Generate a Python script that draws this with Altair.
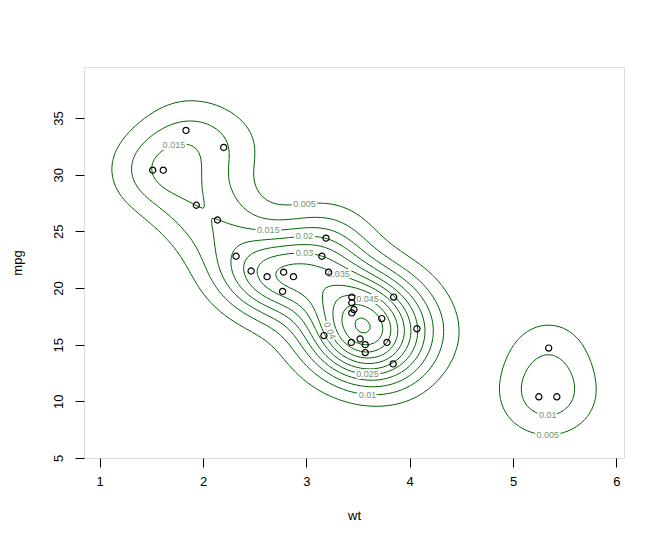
import numpy as np
import pandas as pd
import altair as alt

# mtcars: weight (1000 lbs) and miles per gallon
wt = [2.620, 2.875, 2.320, 3.215, 3.440, 3.460, 3.570, 3.190, 3.150, 3.440, 3.440,
      4.070, 3.730, 3.780, 5.250, 5.424, 5.345, 2.200, 1.615, 1.835, 2.465, 3.520,
      3.435, 3.840, 3.845, 1.935, 2.140, 1.513, 3.170, 2.770, 3.570, 2.780]
mpg = [21.0, 21.0, 22.8, 21.4, 18.7, 18.1, 14.3, 24.4, 22.8, 19.2, 17.8,
       16.4, 17.3, 15.2, 10.4, 10.4, 14.7, 32.4, 30.4, 33.9, 21.5, 15.5,
       15.2, 13.3, 19.2, 27.3, 26.0, 30.4, 15.8, 19.7, 15.0, 21.4]

x_ticks = [1, 2, 3, 4, 5, 6]
y_ticks = [5, 10, 15, 20, 25, 30, 35]
levels = [0.005, 0.01, 0.015, 0.02, 0.025, 0.03, 0.035, 0.04, 0.045, 0.05, 0.055]

# kde2d bandwidths (h, as in MASS::kde2d)
h_wt = 1.28
h_mpg = 10.2

# contour label targets: (level, wt, mpg)
label_level = [0.015, 0.005, 0.015, 0.02, 0.03, 0.035, 0.045, 0.04, 0.025, 0.01, 0.01, 0.005]
label_wt = [1.77, 2.98, 2.65, 2.98, 2.98, 3.30, 3.55, 3.40, 3.59, 3.61, 5.33, 5.34]
label_mpg = [31.2, 27.2, 24.6, 24.2, 22.1, 21.0, 18.4, 16.9, 13.9, 11.7, 9.1, 7.25]

XMIN, XMAX = 0.848, 6.074
YMIN, YMAX = 5.0, 39.5
W, H = 540, 391

# ---- 2D kernel density (as MASS::kde2d) ----
xa = np.array(wt); ya = np.array(mpg)
n = len(xa)
hx = h_wt / 4
hy = h_mpg / 4
gx = np.linspace(XMIN - 0.2, XMAX + 0.2, 130)
gy = np.linspace(YMIN - 2, YMAX + 2, 130)
ax_ = np.exp(-0.5 * ((gx[:, None] - xa[None, :]) / hx) ** 2) / (np.sqrt(2 * np.pi) * hx)
ay_ = np.exp(-0.5 * ((gy[:, None] - ya[None, :]) / hy) ** 2) / (np.sqrt(2 * np.pi) * hy)
Z = (ay_ @ ax_.T) / n   # Z[iy, ix]


def segments(level):
    out = []
    ny, nx = Z.shape
    for i in range(ny - 1):
        for j in range(nx - 1):
            z00, z01 = Z[i, j], Z[i, j + 1]
            z10, z11 = Z[i + 1, j], Z[i + 1, j + 1]
            mn = min(z00, z01, z10, z11); mx = max(z00, z01, z10, z11)
            if mn > level or mx < level:
                continue
            x0, x1 = gx[j], gx[j + 1]
            y0, y1 = gy[i], gy[i + 1]
            pts = []
            def cross(za, zb, pa, pb):
                if (za - level) * (zb - level) < 0:
                    t = (level - za) / (zb - za)
                    pts.append((pa[0] + t * (pb[0] - pa[0]), pa[1] + t * (pb[1] - pa[1])))
            cross(z00, z01, (x0, y0), (x1, y0))
            cross(z01, z11, (x1, y0), (x1, y1))
            cross(z11, z10, (x1, y1), (x0, y1))
            cross(z10, z00, (x0, y1), (x0, y0))
            if len(pts) == 2:
                out.append((pts[0], pts[1]))
            elif len(pts) == 4:
                c = (z00 + z01 + z10 + z11) / 4
                if (c > level) == (z00 > level):
                    out.append((pts[0], pts[3])); out.append((pts[1], pts[2]))
                else:
                    out.append((pts[0], pts[1])); out.append((pts[2], pts[3]))
    return out

rows = []
seg_by_level = {}
for lv in levels:
    if lv > Z.max():
        continue
    segs = segments(lv)
    seg_by_level[lv] = segs
    for (a, b) in segs:
        rows.append({"level": lv, "x": a[0], "y": a[1], "x2": b[0], "y2": b[1]})
seg_df = pd.DataFrame(rows)

sx = W / (XMAX - XMIN); sy = H / (YMAX - YMIN)
lab_rows = []
for lv, tx, ty in zip(label_level, label_wt, label_mpg):
    segs = seg_by_level.get(lv)
    if not segs:
        continue
    best = None; bd = 1e18
    for (a, b) in segs:
        mx_ = (a[0] + b[0]) / 2; my_ = (a[1] + b[1]) / 2
        d = ((mx_ - tx) * sx) ** 2 + ((my_ - ty) * sy) ** 2
        if d < bd:
            bd = d; best = (a, b, mx_, my_)
    a, b, mx_, my_ = best
    ang = np.degrees(np.arctan2(-(b[1] - a[1]) * sy, (b[0] - a[0]) * sx))
    if ang > 90: ang -= 180
    if ang <= -90: ang += 180
    if abs(ang) < 25:
        ang = 0.0
    lab_rows.append({"x": mx_, "y": my_, "label": f"{lv:g}", "angle": ang % 360})
lab_df = pd.DataFrame(lab_rows)

pts_df = pd.DataFrame({"wt": wt, "mpg": mpg})

xs = alt.Scale(domain=[XMIN, XMAX], nice=False, zero=False)
ys = alt.Scale(domain=[YMIN, YMAX], nice=False, zero=False)

axis_common = dict(grid=False, domain=False, ticks=True, tickColor="black", tickSize=9,
                   labelColor="black", labelFontSize=13, labelFont="Liberation Sans",
                   titleColor="black", titleFontSize=13, titleFont="Liberation Sans",
                   titleFontWeight="normal", format="d")

contours = alt.Chart(seg_df).mark_rule(color="#006400", strokeWidth=1, clip=True).encode(
    x=alt.X("x:Q", scale=xs, axis=alt.Axis(values=x_ticks, title="wt", labelPadding=8,
                                           titlePadding=21, **axis_common)),
    y=alt.Y("y:Q", scale=ys, axis=alt.Axis(values=y_ticks, title="mpg", labelAngle=270,
                                           labelAlign="center", labelBaseline="bottom",
                                           labelPadding=10, titlePadding=28, **axis_common)),
    x2="x2:Q", y2="y2:Q",
)

halo = alt.Chart(lab_df).mark_text(fontSize=9, font="Liberation Sans", stroke="white",
                                   strokeWidth=4, color="white").encode(
    x=alt.X("x:Q", scale=xs), y=alt.Y("y:Q", scale=ys), text="label:N",
    angle=alt.Angle("angle:Q", scale=None))
labels = alt.Chart(lab_df).mark_text(fontSize=9, font="Liberation Sans",
                                     color="#739473").encode(
    x=alt.X("x:Q", scale=xs), y=alt.Y("y:Q", scale=ys), text="label:N",
    angle=alt.Angle("angle:Q", scale=None))

points = alt.Chart(pts_df).mark_point(shape="circle", filled=False, color="black",
                                      size=38, strokeWidth=1.2, opacity=1).encode(
    x=alt.X("wt:Q", scale=xs), y=alt.Y("mpg:Q", scale=ys))

chart = alt.layer(contours, halo, labels, points).properties(
    width=W, height=H,
    autosize=alt.AutoSizeParams(type="none"),
    padding={"left": 76, "top": 59, "right": 37, "bottom": 78},
).configure_view(stroke="black", strokeWidth=1.3).configure(background="white")

chart.save("out.html", embed_options={"renderer": "svg", "actions": False})
